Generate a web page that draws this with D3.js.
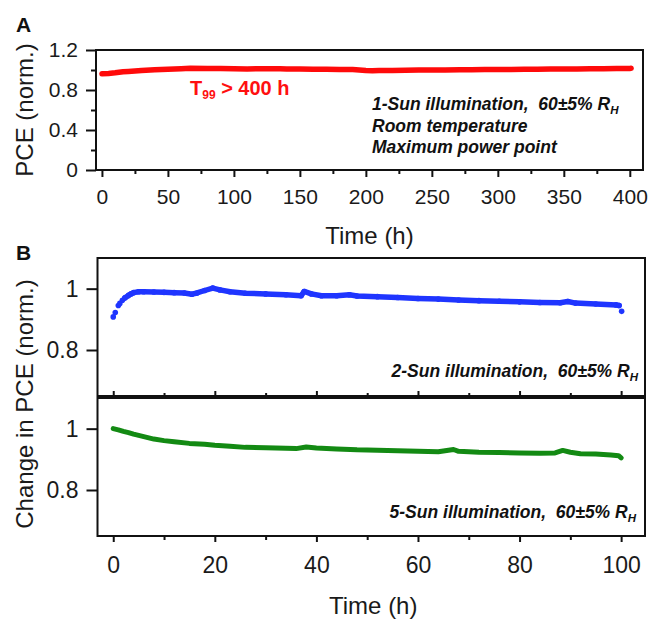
<!DOCTYPE html>
<html>
<head>
<meta charset="utf-8">
<script src="https://cdn.jsdelivr.net/npm/d3@7"></script>
<style>
  html, body { margin: 0; padding: 0; background: #fff; }
  svg { display: block; font-family: "Liberation Sans", Arial, sans-serif; }
  .tick text { fill: #1a1a1a; }
</style>
</head>
<body>
<svg id="chart" width="649" height="619"></svg>
<script>
// ---------------- DATA ----------------
// Panel A: 1-Sun, red
const redTime = [0, 5, 10, 16, 20, 25, 30, 40, 50, 60, 67, 80, 90, 100, 110, 120, 135, 140, 150, 160, 170, 180, 190, 195, 200, 205, 210, 220, 230, 240, 250, 260, 271, 280, 290, 300, 310, 320, 330, 340, 350, 360, 370, 380, 390, 400, 401];
const redPCE  = [0.962, 0.966, 0.972, 0.983, 0.986, 0.99, 0.995, 1.002, 1.007, 1.012, 1.017, 1.016, 1.015, 1.013, 1.011, 1.012, 1.012, 1.01, 1.009, 1.008, 1.007, 1.006, 1.004, 1.0, 0.994, 0.993, 0.994, 0.996, 0.998, 0.999, 1.0, 1.001, 1.002, 1.003, 1.004, 1.005, 1.006, 1.007, 1.008, 1.009, 1.01, 1.011, 1.012, 1.013, 1.014, 1.016, 1.017];

// Panel B (top): 2-Sun, blue
const blueTime = [0, 0.4, 1.0, 1.3, 1.8, 2.3, 3, 3.5, 4, 5, 6, 8, 10, 12, 14, 15.5, 16.5, 18, 19.6, 21, 23, 26, 30, 34, 37, 37.6, 39, 41, 44, 46.5, 48, 52, 56, 60, 64, 68, 72, 76, 80, 84, 88, 89.5, 91, 95, 99, 99.6, 100.1];
const bluePCE  = [0.908, 0.922, 0.945, 0.952, 0.962, 0.970, 0.978, 0.983, 0.987, 0.990, 0.990, 0.989, 0.988, 0.987, 0.986, 0.982, 0.986, 0.994, 1.002, 0.996, 0.990, 0.985, 0.983, 0.980, 0.977, 0.991, 0.983, 0.977, 0.977, 0.980, 0.976, 0.974, 0.971, 0.968, 0.966, 0.963, 0.961, 0.959, 0.957, 0.955, 0.954, 0.958, 0.953, 0.950, 0.947, 0.945, 0.926];

// Panel B (bottom): 5-Sun, green
const greenTime = [0, 1, 2, 3, 4, 5, 6, 7, 8, 10, 12, 15, 18, 20, 23, 26, 30, 34, 36, 38, 40, 44, 48, 52, 56, 60, 64, 67, 68, 72, 76, 80, 84, 87, 88.5, 90, 92, 95, 98, 99.5, 100];
const greenPCE  = [1.0, 0.996, 0.991, 0.987, 0.982, 0.978, 0.974, 0.970, 0.966, 0.961, 0.957, 0.952, 0.949, 0.946, 0.943, 0.939, 0.938, 0.936, 0.935, 0.940, 0.937, 0.934, 0.931, 0.930, 0.928, 0.926, 0.925, 0.932, 0.926, 0.923, 0.922, 0.921, 0.920, 0.921, 0.929, 0.923, 0.918, 0.917, 0.914, 0.912, 0.905];

// Tick values
const aXMajor = [0, 50, 100, 150, 200, 250, 300, 350, 400];
const aXMinor = [25, 75, 125, 175, 225, 275, 325, 375];
const aYMajor = [0, 0.4, 0.8, 1.2];
const aYMinor = [0.2, 0.6, 1.0];
const bXMajor = [0, 20, 40, 60, 80, 100];
const bXMinor = [10, 30, 50, 70, 90];
const bYMajor = [0.8, 1];

// ---------------- CHART ----------------
const svg = d3.select("#chart");

function frame(g, l, t, r, b) {
  g.append("rect").attr("x", l).attr("y", t).attr("width", r - l).attr("height", b - t)
    .attr("fill", "none").attr("stroke", "#111").attr("stroke-width", 2);
}
function styleAxis(sel, fs) {
  sel.select(".domain").remove();
  sel.selectAll(".tick line").attr("stroke", "#111").attr("stroke-width", 2);
  sel.selectAll(".tick text").style("font-size", fs + "px");
}

// ===== Panel A =====
const A = { l: 96, r: 643, t: 50, b: 170 };
const xA = d3.scaleLinear().domain([-4.5, 410]).range([A.l, A.r]);
const yA = d3.scaleLinear().domain([0, 1.2]).range([A.b, A.t]);

const gA = svg.append("g");
gA.append("g").attr("transform", `translate(0,${A.b})`)
  .call(d3.axisBottom(xA).tickValues(aXMinor).tickSize(4).tickFormat(""))
  .call(s => styleAxis(s, 21));
gA.append("g").attr("transform", `translate(0,${A.b})`)
  .call(d3.axisBottom(xA).tickValues(aXMajor).tickSize(7).tickPadding(12).tickFormat(d3.format("d")))
  .call(s => styleAxis(s, 21));
gA.append("g").attr("transform", `translate(${A.l},0)`)
  .call(d3.axisLeft(yA).tickValues(aYMinor).tickSize(5).tickFormat(""))
  .call(s => styleAxis(s, 21));
gA.append("g").attr("transform", `translate(${A.l},0)`)
  .call(d3.axisLeft(yA).tickValues(aYMajor).tickSize(10).tickPadding(8).tickFormat(d => d === 0 ? "0" : d3.format(".1f")(d)))
  .call(s => styleAxis(s, 21));

const lineA = d3.line().x((d, i) => xA(redTime[i])).y(d => yA(d));
gA.append("path").datum(redPCE).attr("d", lineA)
  .attr("fill", "none").attr("stroke", "#ff0a0a").attr("stroke-width", 5.5)
  .attr("stroke-linecap", "round").attr("stroke-linejoin", "round");
frame(gA, A.l, A.t, A.r, A.b);

gA.append("text").attr("x", 16).attr("y", 32).attr("font-weight", "bold").attr("font-size", 21)
  .attr("fill", "#111").text("A");
gA.append("text").attr("transform", `translate(33,${(A.t + A.b) / 2}) rotate(-90)`)
  .attr("text-anchor", "middle").attr("font-size", 24).attr("fill", "#1a1a1a").text("PCE (norm.)");
gA.append("text").attr("x", (A.l + A.r) / 2).attr("y", 244).attr("text-anchor", "middle")
  .attr("font-size", 24).attr("fill", "#1a1a1a").text("Time (h)");

const t99 = gA.append("text").attr("x", 190).attr("y", 95).attr("font-weight", "bold")
  .attr("font-size", 20).attr("fill", "#ff1010");
t99.append("tspan").text("T");
t99.append("tspan").attr("font-size", 12).attr("dy", 4).text("99");
t99.append("tspan").attr("dy", -4).style("white-space", "pre").text(" > 400 h");

function annot(g, x, y, main, anchor) {
  const t = g.append("text").attr("x", x).attr("y", y).attr("font-weight", "bold")
    .attr("font-style", "italic").attr("font-size", 17.5).attr("fill", "#111")
    .attr("text-anchor", anchor).style("white-space", "pre");
  t.append("tspan").text(main);
  return t;
}
function rh(t) {
  t.append("tspan").text("R");
  t.append("tspan").attr("font-size", 11.5).attr("dy", 4).text("H");
}
rh(annot(gA, 372, 110, "1-Sun illumination,  60±5% ", "start"));
annot(gA, 372, 131.5, "Room temperature", "start");
annot(gA, 372, 153, "Maximum power point", "start");

// ===== Panel B =====
const B = { l: 97.5, r: 645 };
const B1 = { t: 258, b: 396 };
const B2 = { t: 398, b: 536 };
const xB = d3.scaleLinear().domain([-3.1, 104.7]).range([B.l, B.r]);
const yB1 = d3.scaleLinear().domain([0.65, 1.1]).range([B1.b, B1.t]);
const yB2 = d3.scaleLinear().domain([0.65, 1.1]).range([B2.b, B2.t]);

const gB = svg.append("g");
// upper: inward ticks on bottom
gB.append("g").attr("transform", `translate(0,${B1.b})`)
  .call(d3.axisTop(xB).tickValues(bXMinor).tickSize(3).tickFormat(""))
  .call(s => styleAxis(s, 23));
gB.append("g").attr("transform", `translate(0,${B1.b})`)
  .call(d3.axisTop(xB).tickValues(bXMajor).tickSize(5).tickFormat(""))
  .call(s => styleAxis(s, 23));
gB.append("g").attr("transform", `translate(${B.l},0)`)
  .call(d3.axisLeft(yB1).tickValues(bYMajor).tickSize(11).tickPadding(8).tickFormat(d => d === 1 ? "1" : d3.format(".1f")(d)))
  .call(s => styleAxis(s, 23));
// lower
gB.append("g").attr("transform", `translate(0,${B2.b})`)
  .call(d3.axisBottom(xB).tickValues(bXMinor).tickSize(4).tickFormat(""))
  .call(s => styleAxis(s, 23));
gB.append("g").attr("transform", `translate(0,${B2.b})`)
  .call(d3.axisBottom(xB).tickValues(bXMajor).tickSize(6).tickPadding(15).tickFormat(d3.format("d")))
  .call(s => styleAxis(s, 23));
gB.append("g").attr("transform", `translate(${B.l},0)`)
  .call(d3.axisLeft(yB2).tickValues(bYMajor).tickSize(11).tickPadding(8).tickFormat(d => d === 1 ? "1" : d3.format(".1f")(d)))
  .call(s => styleAxis(s, 23));

// blue
const blueIdx = blueTime.map((t, i) => i);
const lineBlue = d3.line().x(i => xB(blueTime[i])).y(i => yB1(bluePCE[i]));
gB.append("path").datum(blueIdx.filter(i => blueTime[i] >= 2.3 && blueTime[i] <= 99.6))
  .attr("d", lineBlue).attr("fill", "none").attr("stroke", "#1f35ff").attr("stroke-width", 5.5)
  .attr("stroke-linejoin", "round").attr("stroke-linecap", "round");
gB.selectAll("circle.blue").data(blueIdx).enter().append("circle").attr("class", "blue")
  .attr("cx", i => xB(blueTime[i])).attr("cy", i => yB1(bluePCE[i])).attr("r", 2.8)
  .attr("fill", "#1f35ff");

// green
const greenIdx = greenTime.map((t, i) => i);
const lineGreen = d3.line().x(i => xB(greenTime[i])).y(i => yB2(greenPCE[i]));
gB.append("path").datum(greenIdx).attr("d", lineGreen)
  .attr("fill", "none").attr("stroke", "#138a13").attr("stroke-width", 5)
  .attr("stroke-linejoin", "round").attr("stroke-linecap", "round");

frame(gB, B.l, B1.t, B.r, B1.b);
frame(gB, B.l, B2.t, B.r, B2.b);

gB.append("text").attr("x", 16).attr("y", 260).attr("font-weight", "bold").attr("font-size", 21)
  .attr("fill", "#111").text("B");
gB.append("text").attr("transform", `translate(33,404) rotate(-90)`)
  .attr("text-anchor", "middle").attr("font-size", 24).attr("fill", "#1a1a1a").text("Change in PCE (norm.)");
gB.append("text").attr("x", (B.l + B.r) / 2 + 2).attr("y", 614).attr("text-anchor", "middle")
  .attr("font-size", 24).attr("fill", "#1a1a1a").text("Time (h)");

rh(annot(gB, 638, 377, "2-Sun illumination,  60±5% ", "end"));
rh(annot(gB, 636, 518, "5-Sun illumination,  60±5% ", "end"));
</script>
</body>
</html>
